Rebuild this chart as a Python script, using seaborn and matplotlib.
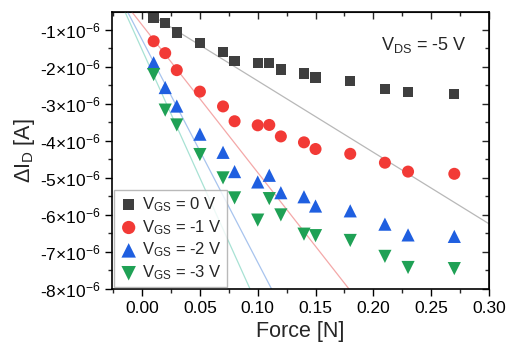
import numpy as np
import pandas as pd
import matplotlib
matplotlib.use('Agg')
import matplotlib.pyplot as plt
from matplotlib.ticker import FuncFormatter, MultipleLocator
import seaborn as sns

# ─── Datos (ΔI_D en µA, fuerza en N) ─────────────────────────────────────────
force = [0.01, 0.02, 0.03, 0.05, 0.07, 0.08, 0.10, 0.11, 0.12,
         0.14, 0.15, 0.18, 0.21, 0.23, 0.27]

di_vgs0 = [-0.69, -0.82, -1.07, -1.36, -1.60, -1.85, -1.89, -1.89, -2.07,
           -2.18, -2.29, -2.39, -2.59, -2.68, -2.73]
di_vgs1 = [-1.31, -1.63, -2.09, -2.67, -3.07, -3.47, -3.58, -3.57, -3.88,
           -4.04, -4.22, -4.35, -4.59, -4.83, -4.89]
di_vgs2 = [-1.89, -2.56, -3.06, -3.82, -4.31, -4.83, -5.11, -4.93, -5.40,
           -5.51, -5.76, -5.89, -6.25, -6.54, -6.58]
di_vgs3 = [-2.21, -3.17, -3.57, -4.37, -5.00, -5.54, -6.14, -5.56, -6.00,
           -6.52, -6.56, -6.69, -7.12, -7.42, -7.45]

labels = ['V$_{\\mathrm{GS}}$ = 0 V', 'V$_{\\mathrm{GS}}$ = -1 V',
          'V$_{\\mathrm{GS}}$ = -2 V', 'V$_{\\mathrm{GS}}$ = -3 V']

# ajuste lineal: intercepto (µA) y pendiente (µA/N)
fit_intercept = [-0.45, -0.87, -1.27, -1.54]
fit_slope     = [-19.3, -39.85, -60.1, -69.2]

# ─── Estilo ─────────────────────────────────────────────────────────────────
MARKER_COLORS = ['#3f3f3f', '#f23a36', '#1f5fe0', '#1fa155']
LINE_COLORS   = ['#b8b8b8', '#f4a8a8', '#a8c4ee', '#a8e2d4']
MARKERS       = ['s', 'o', '^', 'v']
SIZES         = [55, 75, 90, 90]

sns.set_style('ticks')
plt.rcParams['font.family'] = ['Liberation Sans', 'DejaVu Sans']
plt.rcParams['mathtext.fontset'] = 'custom'
plt.rcParams['mathtext.rm'] = 'Liberation Sans'
plt.rcParams['mathtext.it'] = 'Liberation Sans:italic'

series = [di_vgs0, di_vgs1, di_vgs2, di_vgs3]
df = pd.concat([pd.DataFrame({'force': force,
                              'dI': np.array(v) * 1e-6,
                              'serie': lab})
                for v, lab in zip(series, labels)], ignore_index=True)

fig, ax = plt.subplots(figsize=(5.08, 3.49), dpi=100)
fig.subplots_adjust(left=0.2205, right=0.9626, bottom=0.172, top=0.9656)

# Rectas de ajuste
for b, m, c in zip(fit_intercept, fit_slope, LINE_COLORS):
    ax.axline((0, b * 1e-6), slope=m * 1e-6, color=c, linewidth=0.9, zorder=1)

# Puntos
for lab, mk, col, s in zip(labels, MARKERS, MARKER_COLORS, SIZES):
    sub = df[df['serie'] == lab]
    sns.scatterplot(data=sub, x='force', y='dI', marker=mk, color=col, s=s,
                    edgecolor='none', label=lab, ax=ax, zorder=3)

ax.set_xlim(-0.026, 0.30)
ax.set_ylim(-8e-6, -0.52e-6)

ax.xaxis.set_major_locator(MultipleLocator(0.05))
ax.xaxis.set_minor_locator(MultipleLocator(0.025))
ax.yaxis.set_major_locator(MultipleLocator(1e-6))
ax.yaxis.set_minor_locator(MultipleLocator(0.5e-6))
ax.xaxis.set_major_formatter(FuncFormatter(lambda v, p: f'{v:.2f}'))
ax.yaxis.set_major_formatter(
    FuncFormatter(lambda v, p: f'{v * 1e6:.0f}×10$^{{-6}}$'))

ax.tick_params(which='major', direction='out', length=5, width=1,
               labelsize=12.5, colors='black')
ax.tick_params(which='minor', direction='out', length=3, width=1)

# ejes espejo (arriba / derecha) con marcas hacia dentro
top = ax.secondary_xaxis('top')
top.xaxis.set_major_locator(MultipleLocator(0.05))
top.xaxis.set_minor_locator(MultipleLocator(0.025))
top.tick_params(which='major', direction='in', length=5, width=1, labeltop=False)
top.tick_params(which='minor', direction='in', length=3, width=1)
right = ax.secondary_yaxis('right')
right.yaxis.set_major_locator(MultipleLocator(1e-6))
right.yaxis.set_minor_locator(MultipleLocator(0.5e-6))
right.tick_params(which='major', direction='in', length=5, width=1, labelright=False)
right.tick_params(which='minor', direction='in', length=3, width=1)

for sp in ax.spines.values():
    sp.set_linewidth(1.2)
    sp.set_color('black')

ax.set_xlabel('Force [N]', fontsize=15.5)
ax.set_ylabel('ΔI$_{\\mathrm{D}}$ [A]', fontsize=15.5, labelpad=2)

ax.text(0.94, 0.88, 'V$_{\\mathrm{DS}}$ = -5 V', transform=ax.transAxes,
        ha='right', va='center', fontsize=13)

leg = ax.legend(loc='lower left', fontsize=12, frameon=True, fancybox=False,
                borderpad=0.3, handletextpad=0.2, labelspacing=0.25,
                handlelength=1.2, borderaxespad=0.1, markerscale=1.1)
leg.get_frame().set_edgecolor('#a8a8a8')
leg.get_frame().set_linewidth(1.0)

fig.savefig('out.png', dpi=100)
